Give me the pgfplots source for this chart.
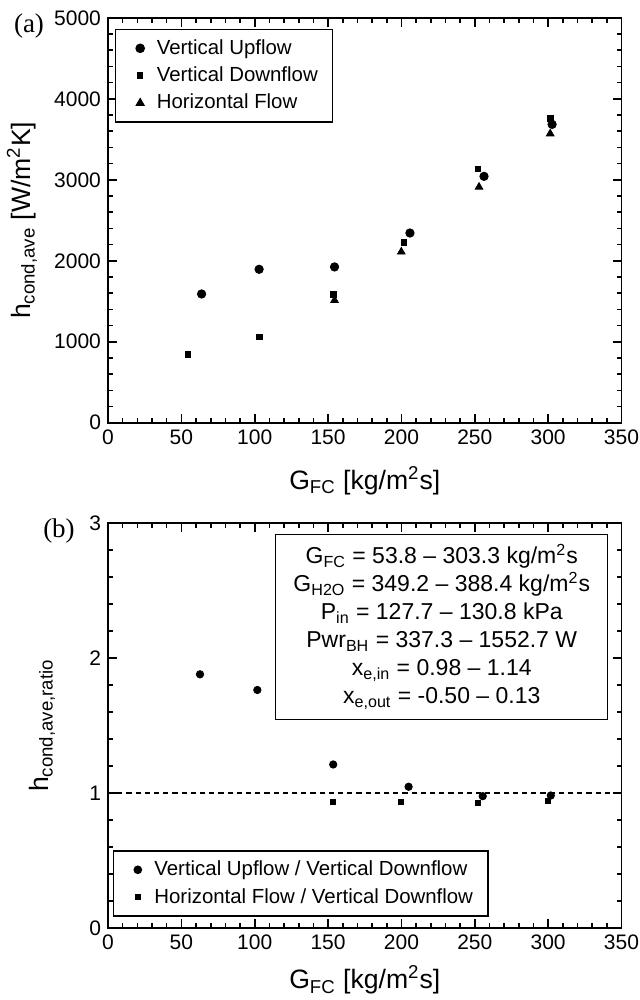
\documentclass[border=0pt]{standalone}
\usepackage{fontspec}
\setmainfont{Liberation Sans}
\newfontfamily\abcfont{Liberation Serif}
\usepackage{pgfplots}
\usepackage{pgfplotstable}
\pgfplotsset{compat=1.18}

% panel (a): h_cond,ave vs G_FC
\pgfplotstableread{
G h
63.8 1590
103.0 1895
154.4 1924
205.8 2343
256.3 3043
302.7 3685
}\upflow
\pgfplotstableread{
G h
54.3 846
103.2 1060
153.7 1587
201.7 2225
252.2 3133
301.4 3760
}\downflow
\pgfplotstableread{
G h
154.4 1512
199.9 2110
252.9 2911
301.4 3570
}\horflow
% panel (b): ratios
\pgfplotstableread{
G r
62.7 1.880
101.8 1.764
153.5 1.212
204.9 1.047
255.4 0.977
301.8 0.982
}\upratio
\pgfplotstableread{
G r
153.5 0.938
199.3 0.938
252.0 0.928
300.0 0.940
}\horratio

\begin{document}
\begin{tikzpicture}
\path[use as bounding box] (-54pt,-288.65pt) rectangle (265.5pt,211.35pt);
\pgfplotsset{
  every axis/.append style={
    scale only axis, width=256.75pt, height=202.4pt,
    xmin=0, xmax=350, xtick={0,50,...,350}, minor x tick num=4,
    minor y tick num=4,
    tick align=inside,
    axis line style={line width=0.9pt},
    major tick length=4.5pt, minor tick length=2.3pt,
    every tick/.style={black, line width=0.8pt},
    tick label style={font=\fontsize{10.5}{12}\selectfont},
    /pgf/number format/assume math mode=true,
    /pgf/number format/1000 sep={},
    scaled ticks=false,
    xlabel={G\textsubscript{FC} [kg/m\textsuperscript{2}s]},
    every axis x label/.style={at={(axis description cs:0.5,-0.143)}, anchor=center,
      font=\fontsize{13.3}{15}\selectfont},
    legend style={draw=black, line width=0.6pt, fill=white,
      font=\fontsize{10.2}{12}\selectfont, inner xsep=5.5pt, inner ysep=3pt,
      row sep=0.8pt},
    legend cell align=left,
    legend image code/.code={\path (0pt,0pt) (12.5pt,0pt);
      \draw[mark repeat=2, mark phase=2, #1, only marks]
      plot coordinates {(0pt,0pt) (6.5pt,0pt) (12.5pt,0pt)};},
  }
}
\begin{axis}[name=top,
  ymin=0, ymax=5000, ytick={0,1000,...,5000},
  ylabel={h\textsubscript{cond,ave} [W/m\textsuperscript{2}K]},
  every axis y label/.style={at={(axis description cs:-0.1675,0.5)}, rotate=90, anchor=center,
    font=\fontsize{13.3}{15}\selectfont},
  legend style={at={(rel axis cs:0.0136,0.973)}, anchor=north west},
]
\addplot[only marks, mark=*, mark size=2.1pt, black] table[x=G, y=h] {\upflow};
\addlegendentry{Vertical Upflow}
\addplot[only marks, mark=square*, mark size=1.35pt, black] table[x=G, y=h] {\downflow};
\addlegendentry{Vertical Downflow}
\addplot[only marks, mark=triangle*, mark size=2.2pt, black] table[x=G, y=h] {\horflow};
\addlegendentry{Horizontal Flow}
\end{axis}

\begin{axis}[name=bot, at={(0pt,-252.65pt)},
  ymin=0, ymax=3, ytick={0,1,2,3},
  ylabel={h\textsubscript{cond,ave,ratio}},
  every axis y label/.style={at={(axis description cs:-0.1285,0.5)}, rotate=90, anchor=center,
    font=\fontsize{13.3}{15}\selectfont},
  every axis x label/.style={at={(axis description cs:0.5,-0.128)}, anchor=center,
    font=\fontsize{13.3}{15}\selectfont},
  legend style={at={(rel axis cs:0.009,0.028)}, anchor=south west},
]
\addplot[black, line width=0.7pt, dash pattern=on 2.6pt off 2pt, forget plot] coordinates {(0,1) (350,1)};
\addplot[only marks, mark=*, mark size=1.85pt, black] table[x=G, y=r] {\upratio};
\addlegendentry{Vertical Upflow / Vertical Downflow}
\addplot[only marks, mark=square*, mark size=1.25pt, black] table[x=G, y=r] {\horratio};
\addlegendentry{Horizontal Flow / Vertical Downflow}
\node[draw=black, line width=0.6pt, fill=white, minimum width=166pt, minimum height=92.5pt,
  align=center, inner sep=0pt, font=\fontsize{11.5}{14}\selectfont]
  at (rel axis cs:0.65,0.744) {%
  G\textsubscript{FC} = 53.8 \textendash{} 303.3 kg/m\textsuperscript{2}s\\
  G\textsubscript{H2O} = 349.2 \textendash{} 388.4 kg/m\textsuperscript{2}s\\
  P\textsubscript{in} = 127.7 \textendash{} 130.8 kPa\\
  Pwr\textsubscript{BH} = 337.3 \textendash{} 1552.7 W\\
  x\textsubscript{e,in} = 0.98 \textendash{} 1.14\\
  x\textsubscript{e,out} = -0.50 \textendash{} 0.13};
\end{axis}

\node[font=\abcfont\fontsize{13.5}{15}\selectfont] at ([xshift=-39.5pt,yshift=-4pt]top.north west) {(a)};
\node[font=\abcfont\fontsize{13.5}{15}\selectfont] at ([xshift=-24.5pt,yshift=-4pt]bot.north west) {(b)};
\end{tikzpicture}
\end{document}
